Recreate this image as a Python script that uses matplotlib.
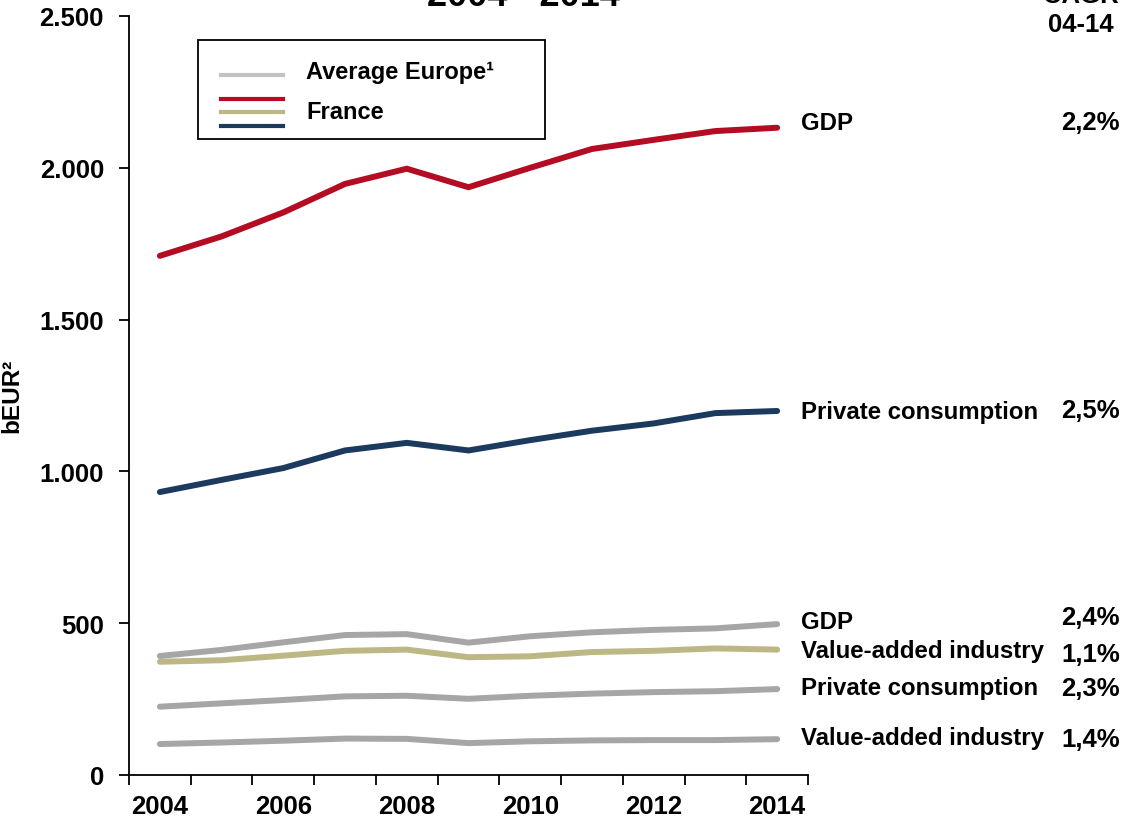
import numpy as np
import matplotlib
matplotlib.use("Agg")
import matplotlib.pyplot as plt
from matplotlib.lines import Line2D
from matplotlib.patches import Rectangle
import matplotlib.transforms as mtransforms

plt.rcParams["font.family"] = ["Liberation Sans", "DejaVu Sans"]
plt.rcParams["font.weight"] = "bold"

years = list(range(2004, 2015))

# bEUR, France
fr_gdp = [1710, 1774, 1853, 1947, 1997, 1936, 2000, 2062, 2092, 2121, 2132]
fr_consumption = [932, 972, 1011, 1069, 1094, 1069, 1103, 1134, 1158, 1192, 1199]
fr_industry = [373, 378, 393, 409, 413, 388, 391, 405, 409, 417, 413]

# bEUR, average Europe
eu_gdp = [392, 412, 437, 461, 464, 436, 457, 470, 478, 483, 497]
eu_consumption = [225, 236, 247, 259, 261, 251, 261, 268, 273, 276, 283]
eu_industry = [102, 107, 113, 120, 119, 105, 111, 114, 115, 115, 118]

series_names = ["GDP", "Private consumption", "GDP", "Value-added industry",
                "Private consumption", "Value-added industry"]
cagr_labels = ["2,2%", "2,5%", "2,4%", "1,1%", "2,3%", "1,4%"]

RED = "#B40C22"
NAVY = "#1B3A5E"
OLIVE = "#BDB785"
GREY = "#A6A6A6"
LEGEND_GREY = "#C3C3C3"

W, H = 1124, 829


def fx(px):
    return px / W


def fy(py):
    return 1 - py / H


fig = plt.figure(figsize=(W / 100, H / 100), dpi=100)
ax = fig.add_axes([fx(129), fy(776), fx(808) - fx(129), fy(17) - fy(776)])

x = np.arange(len(years))
series = [fr_gdp, fr_consumption, eu_gdp, fr_industry, eu_consumption, eu_industry]
colors = [RED, NAVY, GREY, OLIVE, GREY, GREY]
# europe lines go behind the french ones
for vals, c in zip(series[::-1], colors[::-1]):
    ax.plot(x, vals, color=c, lw=4.3, solid_capstyle="round", solid_joinstyle="miter")

ax.set_xlim(-0.5, len(years) - 0.5)
ax.set_ylim(0, 2500)

# category axis: ticks between years, labels every second year
ax.set_xticks(np.arange(-0.5, len(years), 1))
ax.set_xticklabels([])
ax.set_xticks(x[::2], minor=True)
ax.set_xticklabels([str(y) for y in years[::2]], minor=True)
ax.tick_params(axis="x", which="major", direction="out", length=7, width=1.3)
ax.tick_params(axis="x", which="minor", length=0, pad=14, labelsize=18.5)

ax.set_yticks(np.arange(0, 2501, 500))
ax.set_yticklabels(["0", "500", "1.000", "1.500", "2.000", "2.500"])
ax.tick_params(axis="y", direction="out", length=7, width=1.3, pad=11, labelsize=18.5)

for s in ["top", "right"]:
    ax.spines[s].set_visible(False)
for s in ["left", "bottom"]:
    ax.spines[s].set_linewidth(1.3)

fig.text(fx(12), fy(396), "bEUR²", rotation=90, ha="center", va="center",
         fontsize=17.5, fontweight="bold")

# end-of-line labels and growth rates, in fixed columns right of the plot
name_offsets = [5, -1, 3, -1, 2, 2]
cagr_offsets = [6, 1, 7, -4, 1, 0]
tr = mtransforms.blended_transform_factory(fig.transFigure, ax.transData)
for vals, name, cagr, no, co in zip(series, series_names, cagr_labels,
                                    name_offsets, cagr_offsets):
    ax.annotate(name, xy=(fx(801), vals[-1]), xycoords=tr,
                xytext=(0, no * 0.72), textcoords="offset points",
                ha="left", va="center", fontsize=17.3, fontweight="bold",
                annotation_clip=False)
    ax.annotate(cagr, xy=(fx(1120), vals[-1]), xycoords=tr,
                xytext=(0, co * 0.72), textcoords="offset points",
                ha="right", va="center", fontsize=18.5, fontweight="bold",
                annotation_clip=False)

# title and column header, running off the top edge
fig.text(fx(523), fy(6), "2004 - 2014", ha="center", va="baseline",
         fontsize=26, fontweight="bold")
fig.text(fx(1081), fy(3), "CAGR", ha="center", va="baseline",
         fontsize=18.5, fontweight="bold")
fig.text(fx(1081), fy(32), "04-14", ha="center", va="baseline",
         fontsize=18.5, fontweight="bold")

# legend box
fig.patches.append(Rectangle((fx(198), fy(140)), fx(545) - fx(198), fy(41) - fy(140),
                             transform=fig.transFigure, fill=False, lw=1.3, ec="black"))
for py, c in [(75.5, LEGEND_GREY), (99.5, RED), (113, OLIVE), (126.5, NAVY)]:
    fig.lines.append(Line2D([fx(221), fx(283)], [fy(py), fy(py)], color=c, lw=3,
                            transform=fig.transFigure))
fig.text(fx(306), fy(72), "Average Europe¹", ha="left", va="center",
         fontsize=17, fontweight="bold")
fig.text(fx(306), fy(113), "France", ha="left", va="center",
         fontsize=17, fontweight="bold")

fig.savefig("out.png", dpi=100)
